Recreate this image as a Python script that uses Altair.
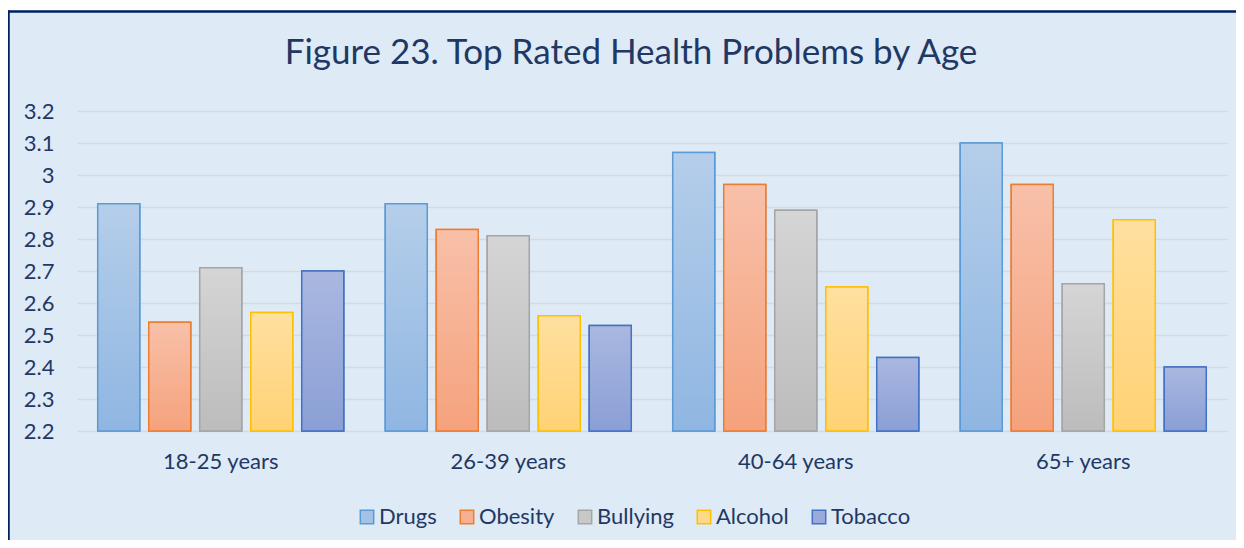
import altair as alt
import pandas as pd

ages = ["18-25 years", "26-39 years", "40-64 years", "65+ years"]
series = ["Drugs", "Obesity", "Bullying", "Alcohol", "Tobacco"]
drugs = [2.91, 2.91, 3.07, 3.10]
obesity = [2.54, 2.83, 2.97, 2.97]
bullying = [2.71, 2.81, 2.89, 2.66]
alcohol = [2.57, 2.56, 2.65, 2.86]
tobacco = [2.70, 2.53, 2.43, 2.40]
y_ticks = [2.2, 2.3, 2.4, 2.5, 2.6, 2.7, 2.8, 2.9, 3.0, 3.1, 3.2]

stroke_colors = ["#5B9BD5", "#ED7D31", "#A5A5A5", "#FFC000", "#4472C4"]
top_colors = ["#B5CEEA", "#F8C0A9", "#D5D5D5", "#FFE09F", "#AAB8E0"]
bottom_colors = ["#8FB6E2", "#F5A27C", "#BCBCBC", "#FFD275", "#8A9FD6"]
legend_fill = ["#A3C2E6", "#F6B192", "#C8C8C8", "#FFD98A", "#9AABDB"]

NAVY = "#1F3864"
BG = "#DEEAF6"

rows = []
for s, vals in zip(series, [drugs, obesity, bullying, alcohol, tobacco]):
    for a, v in zip(ages, vals):
        rows.append({"age": a, "series": s, "value": v})
df = pd.DataFrame(rows)

x_enc = alt.X("age:N", sort=ages, title=None,
              scale=alt.Scale(domain=ages, paddingInner=0.113, paddingOuter=0.0565),
              axis=alt.Axis(labelAngle=0, domain=False, ticks=False, labelPadding=20,
                            labelFont="Lato", labelFontSize=22, labelColor=NAVY, grid=False))
xo_enc = alt.XOffset("series:N", sort=series,
                     scale=alt.Scale(domain=series, paddingInner=0.176, paddingOuter=0.088))
y_enc = alt.Y("value:Q", title=None,
              scale=alt.Scale(domain=[2.2, 3.2], zero=False, nice=False),
              axis=alt.Axis(values=y_ticks, format=".1~f", domain=False, ticks=False,
                            labelPadding=23, labelFont="Lato", labelFontSize=22,
                            labelColor=NAVY, grid=True, gridColor="#D9D9D9", gridWidth=1.5))
y2_enc = alt.Y2(datum=2.2)

leg = alt.Legend(title=None, orient="none", legendX=279, legendY=395, direction="horizontal",
                 symbolType="square", symbolSize=180, symbolStrokeWidth=1.5,
                 labelFont="Lato", labelFontSize=22, labelColor=NAVY, labelOffset=1,
                 columnPadding=19)

base = alt.Chart(df)

legend_layer = base.mark_bar(strokeWidth=1.5).encode(
    x=x_enc, xOffset=xo_enc, y=y_enc, y2=y2_enc,
    fill=alt.Fill("series:N", sort=series, scale=alt.Scale(domain=series, range=legend_fill), legend=leg),
    stroke=alt.Stroke("series:N", sort=series, scale=alt.Scale(domain=series, range=stroke_colors), legend=leg),
)

grad_layers = []
for s, sc, tc, bc in zip(series, stroke_colors, top_colors, bottom_colors):
    grad = alt.Gradient(gradient="linear",
                        stops=[alt.GradientStop(color=tc, offset=0), alt.GradientStop(color=bc, offset=1)],
                        x1=0, x2=0, y1=0, y2=1)
    grad_layers.append(
        base.transform_filter(alt.datum.series == s)
        .mark_bar(fill=grad, stroke=sc, strokeWidth=1.5)
        .encode(x=x_enc, xOffset=xo_enc, y=y_enc, y2=y2_enc)
    )

one = alt.Chart(pd.DataFrame({"k": [0]}))
white_top = one.mark_rule(color="white", strokeWidth=3).encode(
    x=alt.value(-70), x2=alt.value(1160), y=alt.value(-102))
border_top = one.mark_rule(color="#002060", strokeWidth=2.5).encode(
    x=alt.value(-70), x2=alt.value(1160), y=alt.value(-99.5))
border_left = one.mark_rule(color="#002060", strokeWidth=2.5).encode(
    x=alt.value(-68.5), y=alt.value(-100.5), y2=alt.value(500))

chart = alt.layer(legend_layer, *grad_layers, white_top, border_top, border_left).properties(
    width=1150, height=320,
    autosize=alt.AutoSizeParams(type="none"),
    padding={"left": 69, "top": 103, "right": 9, "bottom": 109},
    title=alt.TitleParams("Figure 23. Top Rated Health Problems by Age", font="Lato", fontSize=35,
                          fontWeight="normal", color=NAVY, anchor="middle", frame="group",
                          baseline="alphabetic", offset=-91.5, dx=-21),
).configure(background=BG).configure_view(stroke=None)

chart.save("out.html", embed_options={"renderer": "svg", "actions": False})
